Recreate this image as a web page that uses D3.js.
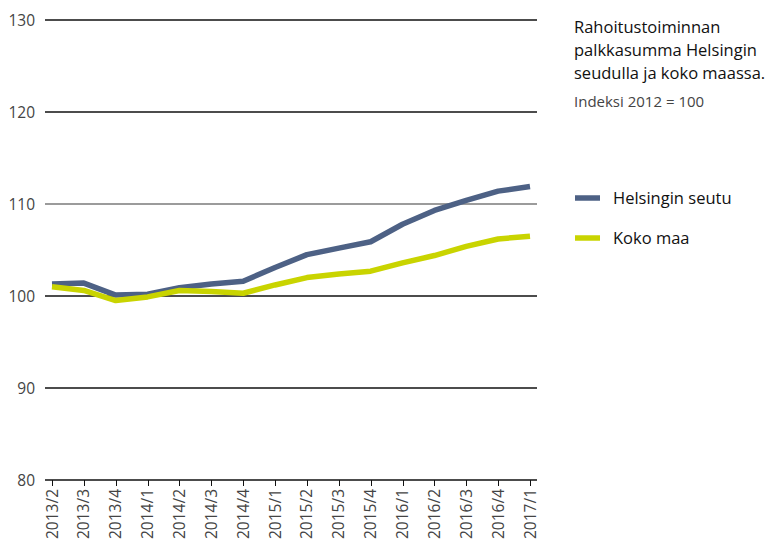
<!DOCTYPE html>
<html>
<head>
    <script src="https://d3js.org/d3.v7.min.js"></script>
    <style>
        body { margin: 0; background: #fff; }
        text { font-family: "Open Sans", sans-serif; }
    </style>
</head>
<body>
    <svg width="766" height="542"></svg>
    <script>
        // data
        var quarters = ["2013/2","2013/3","2013/4","2014/1","2014/2","2014/3","2014/4","2015/1",
                        "2015/2","2015/3","2015/4","2016/1","2016/2","2016/3","2016/4","2017/1"];
        var helsinki = [101.3,101.4,100.1,100.2,100.9,101.3,101.6,103.1,104.5,105.2,105.9,107.8,109.3,110.4,111.4,111.9];
        var kokoMaa  = [101.0,100.6,99.5,99.9,100.6,100.5,100.3,101.2,102.0,102.4,102.7,103.6,104.4,105.4,106.2,106.5];
        var yTicks = [80, 90, 100, 110, 120, 130];

        var svg = d3.select("svg");

        var x = d3.scalePoint().domain(quarters).range([52, 530]);
        var y = d3.scaleLinear().domain([80, 130]).range([480, 20]);

        // gridlines
        svg.selectAll(".grid")
           .data(yTicks)
           .enter().append("line")
           .attr("x1", 45).attr("x2", 537)
           .attr("y1", function(d) { return y(d); })
           .attr("y2", function(d) { return y(d); })
           .attr("stroke", function(d) { return d == 110 ? "#7a7a7a" : "#111"; })
           .attr("stroke-width", 1.6);

        // y labels
        svg.selectAll(".ylab")
           .data(yTicks)
           .enter().append("text")
           .attr("x", 35)
           .attr("y", function(d) { return y(d) + 5.5; })
           .attr("text-anchor", "end")
           .style("font-size", "15.5px")
           .style("fill", "#444")
           .text(function(d) { return d; });

        // x axis ticks + labels
        var xa = svg.append("g").attr("transform", "translate(0,480)");
        xa.selectAll("line")
          .data(quarters)
          .enter().append("line")
          .attr("x1", function(d) { return Math.round(x(d)) + 0.5; })
          .attr("x2", function(d) { return Math.round(x(d)) + 0.5; })
          .attr("y1", 0).attr("y2", 6)
          .attr("stroke", "#111")
          .attr("shape-rendering", "crispEdges");
        xa.selectAll("text")
          .data(quarters)
          .enter().append("text")
          .attr("transform", function(d) { return "translate(" + (x(d) + 5.5) + ",9) rotate(-90)"; })
          .attr("text-anchor", "end")
          .style("font-size", "15.5px")
          .style("fill", "#444")
          .text(function(d) { return d; });

        var line = d3.line()
                     .x(function(d, i) { return x(quarters[i]); })
                     .y(function(d) { return y(d); });

        var series = [{name: "Helsingin seutu", values: helsinki, color: "#4d6185"},
                      {name: "Koko maa", values: kokoMaa, color: "#c9d400"}];

        svg.selectAll(".series")
           .data(series)
           .enter().append("path")
           .attr("d", function(d) { return line(d.values); })
           .attr("fill", "none")
           .attr("stroke", function(d) { return d.color; })
           .attr("stroke-width", 5.5)
           .attr("stroke-linejoin", "round");

        // title
        var title = ["Rahoitustoiminnan", "palkkasumma Helsingin", "seudulla ja koko maassa."];
        svg.selectAll(".title")
           .data(title)
           .enter().append("text")
           .attr("x", 574)
           .attr("y", function(d, i) { return 33 + i * 23; })
           .style("font-size", "16.5px")
           .style("font-weight", 500)
           .style("fill", "#111")
           .text(function(d) { return d; });
        svg.append("text")
           .attr("x", 574).attr("y", 107)
           .style("font-size", "15px")
           .style("fill", "#444")
           .text("Indeksi 2012 = 100");

        // legend
        var leg = svg.selectAll(".leg")
                     .data(series)
                     .enter().append("g")
                     .attr("transform", function(d, i) { return "translate(575," + (198 + i * 40) + ")"; });
        leg.append("line")
           .attr("x1", 0).attr("x2", 25)
           .attr("stroke", function(d) { return d.color; })
           .attr("stroke-width", 5.5);
        leg.append("text")
           .attr("x", 38).attr("y", 6)
           .style("font-size", "16.5px")
           .style("fill", "#111")
           .text(function(d) { return d.name; });
    </script>
</body>
</html>
